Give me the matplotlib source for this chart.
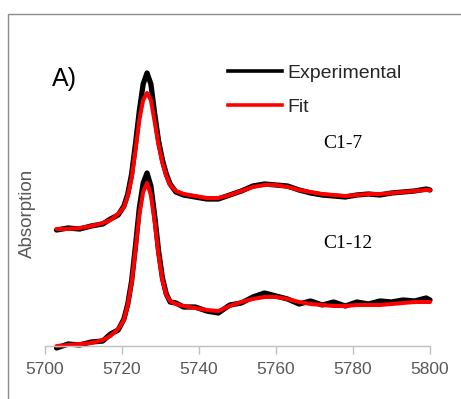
import matplotlib
matplotlib.use("Agg")
import matplotlib.pyplot as plt
from matplotlib.lines import Line2D
from matplotlib.patches import Rectangle

# Energy grid (eV)
energy = [5703, 5706, 5709, 5712, 5715, 5717, 5719, 5720.5, 5721.5, 5722.5,
          5723.5, 5724.5, 5725.5, 5726.5, 5727.5, 5728.5, 5729.5, 5730.5, 5731.5, 5732.5,
          5734, 5736, 5739, 5742, 5745, 5748, 5751, 5754, 5757, 5760,
          5763, 5766, 5769, 5772, 5775, 5778, 5781, 5784, 5787, 5790,
          5793, 5796, 5799, 5800]

# C1-7 (offset upper spectrum)
c17_exp = [1.16, 1.18, 1.17, 1.20, 1.22, 1.27, 1.31, 1.40, 1.52, 1.72,
           2.02, 2.35, 2.62, 2.73, 2.62, 2.32, 2.05, 1.86, 1.72, 1.62,
           1.54, 1.51, 1.49, 1.47, 1.47, 1.51, 1.55, 1.60, 1.62, 1.61,
           1.60, 1.56, 1.53, 1.51, 1.50, 1.49, 1.51, 1.52, 1.51, 1.53,
           1.54, 1.55, 1.57, 1.56]
c17_fit = [1.17, 1.17, 1.18, 1.20, 1.23, 1.26, 1.32, 1.39, 1.50, 1.68,
           1.96, 2.26, 2.46, 2.53, 2.46, 2.24, 2.01, 1.83, 1.70, 1.61,
           1.55, 1.52, 1.50, 1.48, 1.48, 1.51, 1.55, 1.59, 1.61, 1.61,
           1.59, 1.56, 1.54, 1.52, 1.51, 1.50, 1.51, 1.52, 1.52, 1.53,
           1.54, 1.55, 1.56, 1.56]

# C1-12 (lower spectrum)
c112_exp = [-0.02, 0.02, 0.01, 0.04, 0.05, 0.12, 0.16, 0.27, 0.42, 0.65,
            1.00, 1.38, 1.63, 1.73, 1.60, 1.30, 0.95, 0.68, 0.52, 0.44,
            0.43, 0.39, 0.39, 0.35, 0.33, 0.41, 0.43, 0.49, 0.53, 0.50,
            0.47, 0.42, 0.45, 0.41, 0.44, 0.40, 0.44, 0.42, 0.45, 0.44,
            0.46, 0.45, 0.48, 0.46]
c112_fit = [0.00, 0.01, 0.02, 0.03, 0.06, 0.10, 0.17, 0.26, 0.41, 0.63,
            0.96, 1.31, 1.54, 1.63, 1.51, 1.24, 0.91, 0.66, 0.51, 0.45,
            0.42, 0.40, 0.38, 0.36, 0.35, 0.40, 0.44, 0.47, 0.49, 0.49,
            0.47, 0.44, 0.42, 0.41, 0.40, 0.40, 0.41, 0.41, 0.41, 0.42,
            0.43, 0.44, 0.44, 0.44]

xticks = [5700, 5720, 5740, 5760, 5780, 5800]
legend_labels = ["Experimental", "Fit"]
sample_labels = ["C1-7", "C1-12"]

W, H = 461, 399
fig = plt.figure(figsize=(W / 100, H / 100), dpi=100)
fig.patch.set_facecolor("white")

def fx(px):
    return px / W

def fy(py):
    return 1 - py / H

ax_top_px, ax_bot_px = 20, 346
ax = fig.add_axes([fx(45), fy(ax_bot_px), fx(430) - fx(45), (ax_bot_px - ax_top_px) / H])
ax.set_xlim(5700, 5800)
ax.set_ylim(0, (ax_bot_px - ax_top_px) / 100)

black_lw, red_lw = 3.8, 2.9
kw = dict(clip_on=False, solid_capstyle="round", solid_joinstyle="round")
ax.plot(energy, c17_exp, color="black", lw=black_lw, **kw)
ax.plot(energy, c17_fit, color="#ff0000", lw=red_lw, **kw)
ax.plot(energy, c112_exp, color="black", lw=black_lw, **kw)
ax.plot(energy, c112_fit, color="#ff0000", lw=red_lw, **kw)

for s in ["left", "right", "top"]:
    ax.spines[s].set_visible(False)
ax.spines["bottom"].set_color("#bfbfbf")
ax.spines["bottom"].set_linewidth(1.0)
ax.set_yticks([])
ax.set_xticks(xticks)
ax.tick_params(axis="x", direction="out", length=5.8, width=1.0, color="#bfbfbf",
               labelcolor="#595959", labelsize=12.5, pad=6)
for lab in ax.get_xticklabels():
    lab.set_fontfamily("Liberation Sans")

fig.text(fx(27), fy(213), "Absorption", rotation=90, ha="center", va="center",
         fontsize=13.5, color="#595959", family="Liberation Sans")

fig.text(fx(52), fy(79), "A)", ha="left", va="center", fontsize=18,
         color="black", family="Liberation Sans")
fig.text(fx(323), fy(144), sample_labels[0], ha="left", va="center", fontsize=14,
         color="black", family="Liberation Serif")
fig.text(fx(323), fy(243), sample_labels[1], ha="left", va="center", fontsize=14,
         color="black", family="Liberation Serif")

handles = [Line2D([], [], color="black", lw=2.6),
           Line2D([], [], color="#ff0000", lw=2.6)]
leg = fig.legend(handles, legend_labels, loc="upper left",
                 bbox_to_anchor=(fx(228), fy(64)), frameon=False, borderpad=0,
                 borderaxespad=0, handlelength=2.8, handletextpad=0.25,
                 labelspacing=0.85, prop={"family": "Liberation Sans", "size": 14})
for t in leg.get_texts():
    t.set_color("#262626")

fig.add_artist(Rectangle((fx(8), -0.2), 1.5, fy(14) + 0.2, transform=fig.transFigure,
                         fill=False, edgecolor="#8c8c8c", lw=1.0, clip_on=False))

fig.savefig("out.png", dpi=100)
